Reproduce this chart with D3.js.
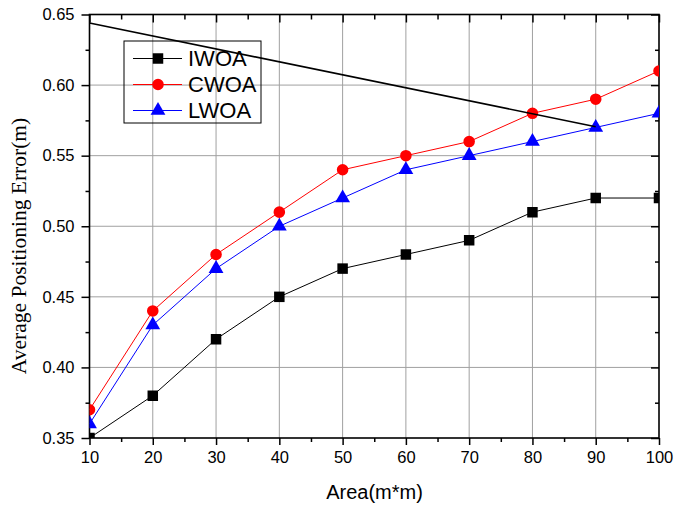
<!DOCTYPE html>
<html>
<head>
<meta charset="utf-8">
<script src="https://cdn.jsdelivr.net/npm/d3@7"></script>
<style>
  body { margin: 0; background: #fff; }
  svg { display: block; }
  .tick-label { font-family: Arial, "Liberation Sans", sans-serif; font-size: 16.5px; fill: #000; }
</style>
</head>
<body>
<div id="chart"></div>
<script>
var area = [10, 20, 30, 40, 50, 60, 70, 80, 90, 100];
var iwoa = [0.35, 0.38, 0.42, 0.45, 0.47, 0.48, 0.49, 0.51, 0.52, 0.52];
var cwoa = [0.37, 0.44, 0.48, 0.51, 0.54, 0.55, 0.56, 0.58, 0.59, 0.61];
var lwoa = [0.36, 0.43, 0.47, 0.50, 0.52, 0.54, 0.55, 0.56, 0.57, 0.58];
// stray straight line in the original figure
var strayX = [10, 90];
var strayY = [0.644, 0.5705];
var xTicks = [10, 20, 30, 40, 50, 60, 70, 80, 90, 100];
var yTicks = [0.35, 0.40, 0.45, 0.50, 0.55, 0.60, 0.65];

var series = [
  {name: "IWOA", values: iwoa, color: "#000000", symbol: d3.symbolSquare, size: 110},
  {name: "CWOA", values: cwoa, color: "#ff0000", symbol: d3.symbolCircle, size: 105},
  {name: "LWOA", values: lwoa, color: "#0000ff", symbol: d3.symbolTriangle, size: 95}
];

var W = 688, H = 509;
var pLeft = 89.5, pRight = 659, pTop = 14.5, pBottom = 438;

var svg = d3.select("#chart").append("svg").attr("width", W).attr("height", H);

var x = d3.scaleLinear().domain([10, 100]).range([pLeft, pRight]);
var y = d3.scaleLinear().domain([0.35, 0.65]).range([pBottom, pTop]);

var xMinor = d3.range(15, 100, 10);
var yMinor = [0.375, 0.425, 0.475, 0.525, 0.575, 0.625];

svg.append("defs").append("clipPath").attr("id", "plotclip")
  .append("rect").attr("x", pLeft).attr("y", pTop).attr("width", pRight - pLeft).attr("height", pBottom - pTop);

// grid
var grid = svg.append("g").attr("stroke", "#a0a0a0").attr("stroke-width", 1);
grid.selectAll(".gx").data(xTicks.slice(1, -1)).enter().append("line")
  .attr("x1", function(d){ return x(d); }).attr("x2", function(d){ return x(d); })
  .attr("y1", pTop).attr("y2", pBottom);
grid.selectAll(".gy").data(yTicks.slice(1, -1)).enter().append("line")
  .attr("y1", function(d){ return y(d); }).attr("y2", function(d){ return y(d); })
  .attr("x1", pLeft).attr("x2", pRight);

// axes
var axisStyle = function(g) {
  g.select(".domain").remove();
  g.selectAll(".tick line").attr("stroke", "#000").attr("stroke-width", 1.5);
  g.selectAll(".tick text").attr("class", "tick-label").attr("font-size", null).attr("font-family", null);
};

svg.append("g").attr("transform", "translate(0," + pBottom + ")")
  .call(d3.axisBottom(x).tickValues(xTicks).tickSize(7).tickPadding(6).tickFormat(d3.format("d")))
  .call(axisStyle);
svg.append("g").attr("transform", "translate(0," + pBottom + ")")
  .call(d3.axisBottom(x).tickValues(xMinor).tickSize(4).tickFormat(""))
  .call(axisStyle);
svg.append("g").attr("transform", "translate(" + pLeft + ",0)")
  .call(d3.axisLeft(y).tickValues(yTicks).tickSize(8).tickPadding(7).tickFormat(d3.format(".2f")))
  .call(axisStyle);
svg.append("g").attr("transform", "translate(" + pLeft + ",0)")
  .call(d3.axisLeft(y).tickValues(yMinor).tickSize(4).tickFormat(""))
  .call(axisStyle);
svg.append("g").attr("transform", "translate(0," + pTop + ")")
  .call(d3.axisTop(x).tickValues(xTicks).tickSize(-8).tickFormat(""))
  .call(axisStyle);
svg.append("g").attr("transform", "translate(0," + pTop + ")")
  .call(d3.axisTop(x).tickValues(xMinor).tickSize(-5).tickFormat(""))
  .call(axisStyle);
svg.append("g").attr("transform", "translate(" + pRight + ",0)")
  .call(d3.axisRight(y).tickValues(yTicks).tickSize(-8).tickFormat(""))
  .call(axisStyle);
svg.append("g").attr("transform", "translate(" + pRight + ",0)")
  .call(d3.axisRight(y).tickValues(yMinor).tickSize(-4).tickFormat(""))
  .call(axisStyle);

svg.append("rect").attr("x", pLeft).attr("y", pTop).attr("width", pRight - pLeft).attr("height", pBottom - pTop)
  .attr("fill", "none").attr("stroke", "#000").attr("stroke-width", 1.6);

// data
var plot = svg.append("g").attr("clip-path", "url(#plotclip)");
var line = d3.line().x(function(d){ return x(d[0]); }).y(function(d){ return y(d[1]); });

series.forEach(function(s) {
  var pts = area.map(function(a, i){ return [a, s.values[i]]; });
  plot.append("path").datum(pts).attr("d", line)
    .attr("fill", "none").attr("stroke", s.color).attr("stroke-width", 1);
  plot.selectAll(null).data(pts).enter().append("path")
    .attr("transform", function(d){ return "translate(" + x(d[0]) + "," + y(d[1]) + ")"; })
    .attr("d", d3.symbol().type(s.symbol).size(s.size))
    .attr("fill", s.color);
});

plot.append("path").datum(strayX.map(function(a, i){ return [a, strayY[i]]; })).attr("d", line)
  .attr("fill", "none").attr("stroke", "#000").attr("stroke-width", 1.6);

// legend
var leg = svg.append("g");
leg.append("rect").attr("x", 124).attr("y", 41).attr("width", 137).attr("height", 82)
  .attr("fill", "none").attr("stroke", "#000").attr("stroke-width", 1);
series.forEach(function(s, i) {
  var cy = 58.5 + i * 26;
  leg.append("line").attr("x1", 133).attr("x2", 182).attr("y1", cy).attr("y2", cy)
    .attr("stroke", s.color).attr("stroke-width", 1);
  leg.append("path").attr("transform", "translate(158," + cy + ")")
    .attr("d", d3.symbol().type(s.symbol).size(s.size)).attr("fill", s.color);
  leg.append("text").attr("x", 188).attr("y", cy + 7.5)
    .attr("font-family", "Arial, 'Liberation Sans', sans-serif").attr("font-size", 22)
    .text(s.name);
});

// titles
svg.append("text").attr("x", 374.5).attr("y", 499)
  .attr("text-anchor", "middle").attr("font-family", "Arial, 'Liberation Sans', sans-serif").attr("font-size", 20)
  .text("Area(m*m)");
svg.append("text").attr("transform", "translate(26,246) rotate(-90)")
  .attr("text-anchor", "middle").attr("font-family", "'Times New Roman', 'Liberation Serif', serif").attr("font-size", 21.5)
  .text("Average Positioning Error(m)");
</script>
</body>
</html>
